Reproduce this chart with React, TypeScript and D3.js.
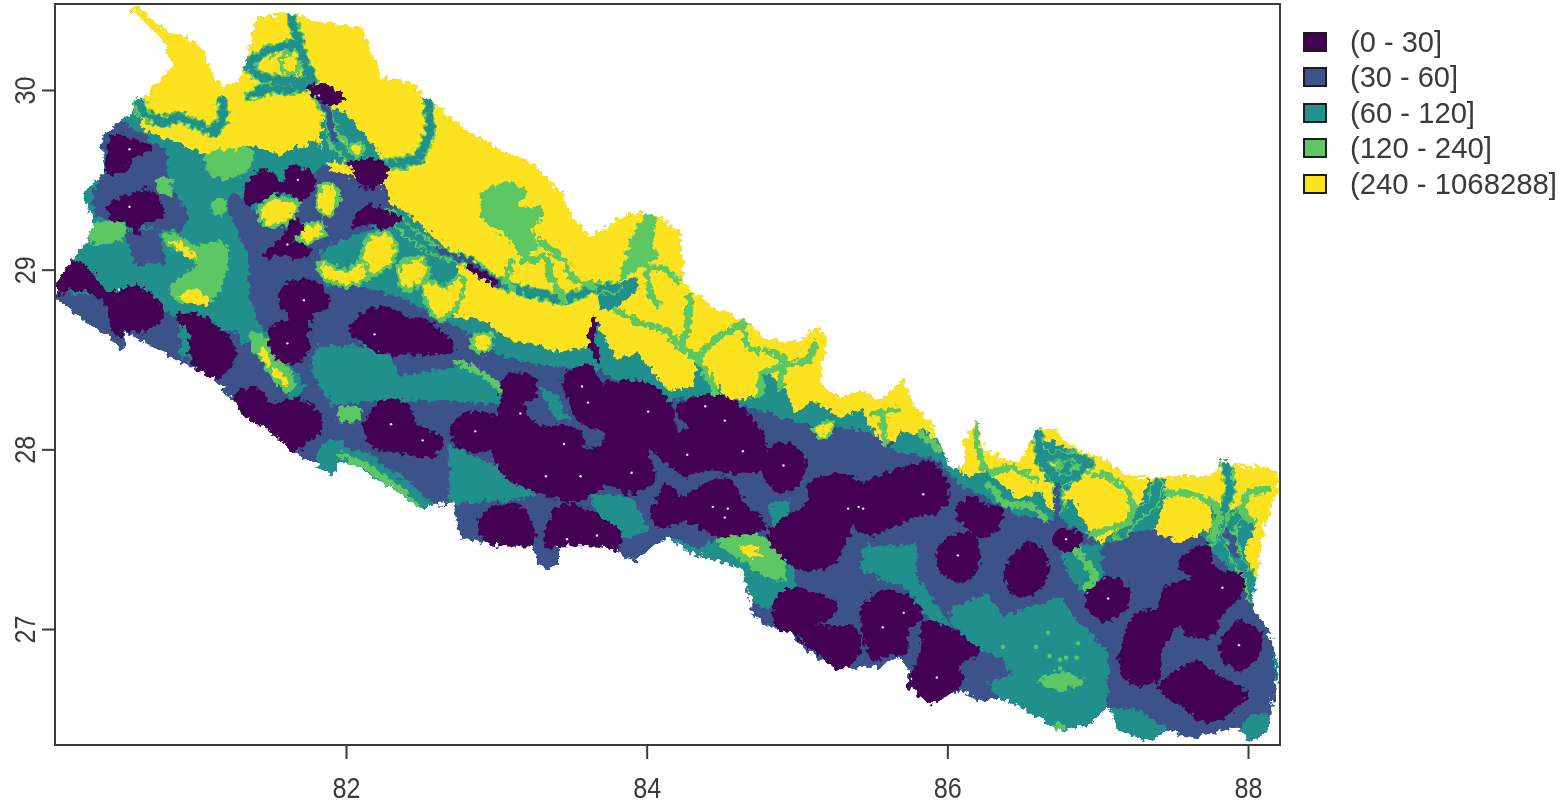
import React, { useRef, useEffect } from "react";
import * as d3 from "d3";

type Pt = [number, number];

const xTicks = [82, 84, 86, 88];
const yTicks = [27, 28, 29, 30];
const classLabels = ["(0 - 30]", "(30 - 60]", "(60 - 120]", "(120 - 240]", "(240 - 1068288]"];
const classColors = ["#440154", "#3B528B", "#21908C", "#5DC863", "#FDE21F"];

// Everything below is [longitude, latitude]
const outline: Pt[] = [[80.56,30.46],[80.61,30.47],[80.70,30.39],[80.83,30.32],[81.01,30.27],[81.08,30.17],[81.13,30.05],[81.21,30.02],[81.30,30.05],[81.34,30.17],[81.41,30.41],[81.50,30.41],[81.63,30.43],[81.70,30.41],[81.88,30.37],[82.10,30.35],[82.14,30.26],[82.21,30.15],[82.23,30.07],[82.43,30.04],[82.56,29.94],[82.74,29.82],[82.83,29.76],[83.07,29.65],[83.25,29.59],[83.43,29.43],[83.51,29.28],[83.63,29.18],[83.80,29.28],[83.96,29.32],[84.11,29.29],[84.22,29.20],[84.24,29.04],[84.24,28.93],[84.44,28.79],[84.64,28.72],[84.80,28.61],[85.00,28.60],[85.14,28.68],[85.20,28.61],[85.16,28.46],[85.16,28.35],[85.29,28.29],[85.42,28.33],[85.55,28.27],[85.71,28.39],[85.77,28.26],[85.89,28.15],[85.97,28.00],[86.02,27.90],[86.11,27.90],[86.10,28.03],[86.20,28.16],[86.24,28.00],[86.47,27.92],[86.55,28.03],[86.60,28.11],[86.71,28.11],[86.84,28.01],[87.02,27.95],[87.17,27.87],[87.30,27.84],[87.53,27.85],[87.75,27.85],[87.84,27.94],[87.93,27.91],[88.10,27.90],[88.20,27.87],[88.20,27.76],[88.17,27.72],[88.10,27.55],[88.07,27.34],[88.04,27.22],[88.02,27.12],[88.13,27.01],[88.20,26.81],[88.20,26.72],[88.17,26.62],[88.12,26.42],[88.02,26.38],[87.93,26.45],[87.77,26.42],[87.62,26.39],[87.46,26.44],[87.35,26.37],[87.26,26.40],[87.13,26.44],[87.07,26.58],[86.97,26.48],[86.75,26.43],[86.57,26.53],[86.35,26.62],[86.22,26.59],[86.09,26.66],[85.89,26.58],[85.74,26.68],[85.75,26.77],[85.67,26.85],[85.55,26.79],[85.42,26.79],[85.26,26.78],[85.06,26.88],[84.96,26.98],[84.82,27.01],[84.69,27.09],[84.69,27.16],[84.64,27.33],[84.42,27.40],[84.29,27.42],[84.14,27.51],[84.04,27.46],[83.91,27.37],[83.80,27.44],[83.67,27.46],[83.41,27.46],[83.41,27.38],[83.34,27.33],[83.27,27.38],[83.23,27.46],[83.03,27.46],[82.76,27.51],[82.71,27.70],[82.47,27.68],[82.36,27.76],[82.14,27.87],[82.03,27.93],[81.94,27.92],[81.92,27.86],[81.83,27.90],[81.65,27.98],[81.48,28.11],[81.32,28.18],[81.25,28.27],[81.12,28.39],[80.92,28.48],[80.76,28.55],[80.54,28.65],[80.51,28.55],[80.45,28.61],[80.25,28.72],[80.08,28.83],[80.08,28.94],[80.17,29.05],[80.25,29.13],[80.32,29.24],[80.25,29.43],[80.39,29.54],[80.37,29.74],[80.45,29.80],[80.58,29.87],[80.58,29.94],[80.68,29.96],[80.74,30.04],[80.85,30.13],[80.78,30.28],[80.68,30.37]];

const bluePolys: Pt[][] = [
  [[80.37,29.80],[80.50,29.83],[80.80,29.67],[80.83,29.47],[80.96,29.30],[80.90,29.21],[80.56,29.25],[80.33,29.30],[80.31,29.44],[80.40,29.55]],
  [[80.03,28.89],[80.50,28.83],[80.83,28.75],[81.30,28.64],[81.36,28.27],[81.16,28.27],[80.50,28.50],[80.03,28.78]],
  [[80.53,29.21],[80.76,29.23],[80.80,29.04],[80.60,29.01]],
  [[81.21,29.35],[81.24,29.44],[81.50,29.26],[81.70,29.39],[81.83,29.58],[82.26,29.58],[82.33,29.30],[81.98,29.16],[81.83,29.11],[81.86,28.91],[82.10,28.91],[82.36,28.84],[82.56,28.76],[82.83,28.64],[83.03,28.52],[83.29,28.47],[83.69,28.44],[84.09,28.26],[84.36,28.30],[84.76,28.22],[85.02,28.14],[85.42,28.11],[85.89,27.97],[86.09,27.80],[86.49,27.63],[86.75,27.61],[87.02,27.47],[87.15,27.50],[87.25,27.75],[87.55,27.72],[87.68,27.52],[87.98,27.22],[88.28,26.88],[88.28,26.33],[84.36,26.33],[84.36,27.27],[82.76,27.38],[82.36,27.61],[82.03,27.89],[81.70,27.89],[81.24,28.27],[81.20,28.42],[81.30,28.58],[81.46,28.64],[81.36,28.83],[81.34,29.09]],
];

const tealPolys: Pt[][] = [
  [[80.89,28.73],[81.02,28.73],[81.00,28.50],[80.90,28.50]],
  [[81.33,28.69],[81.48,28.66],[81.73,28.36],[81.66,28.27],[81.46,28.44]],
  [[81.81,28.58],[82.25,28.58],[82.36,28.41],[82.83,28.47],[83.06,28.36],[83.03,28.25],[82.63,28.27],[82.36,28.27],[81.90,28.25],[81.76,28.44]],
  [[81.83,28.03],[81.96,28.05],[82.03,28.00],[82.16,27.97],[82.49,27.77],[82.63,27.66],[82.46,27.63],[82.10,27.83],[81.93,27.83],[81.80,27.91]],
  [[82.68,28.03],[83.03,27.89],[83.23,27.83],[83.26,27.73],[82.83,27.70],[82.69,27.69]],
  [[83.63,27.75],[83.89,27.74],[84.02,27.55],[83.86,27.50],[83.69,27.55]],
  [[84.12,27.52],[84.36,27.45],[84.56,27.55],[84.96,27.41],[85.01,27.22],[84.82,27.11],[84.66,27.16],[84.59,27.33],[84.36,27.37],[84.22,27.41]],
  [[85.44,27.46],[85.80,27.47],[85.79,27.30],[85.95,27.11],[86.02,27.02],[85.89,27.05],[85.72,27.22],[85.42,27.33]],
  [[86.02,27.12],[86.27,27.20],[86.37,27.07],[86.75,27.18],[86.84,27.07],[87.07,26.87],[87.07,26.58],[86.97,26.48],[86.75,26.41],[86.57,26.50],[86.35,26.59],[86.27,26.70],[86.44,26.75],[86.35,26.84],[86.22,26.88],[86.02,27.03]],
  [[87.05,26.56],[87.26,26.55],[87.48,26.44],[87.35,26.33],[87.13,26.38]],
  [[87.93,26.43],[88.02,26.53],[88.14,26.53],[88.14,26.38],[87.95,26.35]],
  [[88.18,26.86],[88.25,26.86],[88.25,26.69],[88.18,26.69]],
  [[84.81,27.69],[84.95,27.72],[84.95,27.58],[84.84,27.58]],
  [[86.75,27.47],[87.02,27.47],[87.05,27.27],[86.89,27.19],[86.79,27.33]],
  [[83.27,28.36],[83.41,28.30],[83.49,28.16],[83.39,28.16]],
];

const greenPolys: Pt[][] = [
  [[81.36,28.65],[81.44,28.64],[81.66,28.36],[81.60,28.32],[81.42,28.50]],
  [[81.08,29.67],[81.36,29.68],[81.38,29.58],[81.20,29.50],[81.08,29.55]],
  [[80.28,29.23],[80.50,29.27],[80.53,29.19],[80.33,29.14]],
  [[80.80,29.21],[81.00,29.14],[81.20,29.15],[81.18,28.91],[81.10,28.83],[80.86,28.83],[80.83,28.91],[81.00,29.03],[80.80,29.14]],
  [[80.74,29.51],[80.83,29.50],[80.84,29.41],[80.76,29.43]],
  [[81.12,29.39],[81.20,29.39],[81.18,29.30],[81.11,29.32]],
  [[84.46,27.50],[84.76,27.52],[84.92,27.36],[84.89,27.26],[84.69,27.35]],
  [[86.60,26.71],[86.75,26.76],[86.90,26.71],[86.75,26.66]],
  [[86.70,26.47],[86.80,26.47],[86.75,26.43]],
  [[81.96,28.23],[82.09,28.23],[82.09,28.17],[81.96,28.16]],
];

const yellowStreaks: Pt[][] = [
  [[80.83,29.16],[80.90,29.15],[81.01,29.07],[80.94,29.07]],
  [[80.88,28.84],[81.00,28.89],[81.10,28.80],[81.00,28.81]],
  [[81.43,28.55],[81.47,28.55],[81.49,28.47],[81.45,28.47]],
  [[81.51,28.45],[81.54,28.45],[81.62,28.36],[81.58,28.36]],
  [[84.61,27.46],[84.70,27.46],[84.78,27.40],[84.69,27.40]],
];

const yellowMain: Pt[] = [[80.36,30.55],[88.28,30.55],[88.28,27.26],[88.05,27.28],[87.93,27.53],[87.77,27.57],[87.55,27.48],[87.40,27.53],[87.33,27.68],[87.22,27.65],[87.17,27.57],[87.02,27.48],[86.89,27.61],[86.84,27.73],[86.71,27.65],[86.62,27.76],[86.47,27.73],[86.27,27.87],[86.11,27.85],[85.99,27.97],[85.85,28.11],[85.69,28.05],[85.55,28.05],[85.42,28.22],[85.29,28.17],[85.11,28.27],[84.98,28.20],[84.91,28.37],[84.76,28.44],[84.74,28.29],[84.56,28.27],[84.42,28.40],[84.34,28.50],[84.31,28.35],[84.14,28.33],[83.94,28.54],[83.80,28.50],[83.67,28.70],[83.61,28.57],[83.41,28.54],[83.23,28.59],[83.09,28.61],[82.91,28.72],[82.71,28.74],[82.76,29.06],[82.63,29.15],[82.43,29.30],[82.31,29.36],[82.25,29.46],[81.90,29.55],[81.81,29.72],[81.56,29.64],[81.36,29.69],[81.06,29.65],[80.83,29.72],[80.66,29.77],[80.60,29.90]];

const tealWebs: Pt[][] = [
  [[81.85,29.89],[81.98,29.89],[82.18,29.70],[82.25,29.59],[82.03,29.61],[81.85,29.59],[81.83,29.76]],
  [[86.61,28.07],[86.92,27.97],[86.95,27.89],[86.79,27.77],[86.65,27.83]],
  [[87.34,27.83],[87.45,27.83],[87.45,27.72],[87.38,27.55],[87.22,27.55],[87.28,27.69]],
  [[87.75,27.69],[87.95,27.66],[88.05,27.58],[87.95,27.38],[87.78,27.47]],
  [[85.69,28.10],[85.95,28.05],[86.02,27.92],[85.80,27.97],[85.62,28.00]],
];

const pockets: Pt[][] = [
  [[81.42,29.33],[81.51,29.40],[81.68,29.36],[81.60,29.26],[81.46,29.25]],
  [[81.83,29.46],[81.93,29.47],[81.94,29.36],[81.88,29.30],[81.82,29.34]],
  [[81.66,29.21],[81.83,29.26],[81.86,29.21],[81.72,29.15]],
  [[82.13,29.16],[82.26,29.21],[82.33,29.14],[82.31,29.04],[82.16,28.97],[82.11,29.05]],
  [[81.82,29.04],[82.00,29.00],[82.11,29.04],[82.15,28.97],[82.03,28.91],[81.86,28.95]],
  [[82.36,29.03],[82.51,29.06],[82.55,28.99],[82.43,28.89],[82.35,28.93]],
  [[82.53,28.93],[82.66,28.91],[82.77,28.97],[82.76,28.83],[82.63,28.72],[82.53,28.83]],
  [[81.56,30.16],[81.66,30.22],[81.68,30.10],[81.60,30.10]],
  [[82.84,28.62],[82.96,28.64],[82.95,28.55],[82.86,28.55]],
  [[85.11,28.12],[85.25,28.15],[85.18,28.06]],
  [[81.92,29.76],[82.00,29.72],[81.96,29.67],[81.90,29.69]],
  [[82.04,29.70],[82.11,29.69],[82.10,29.64],[82.04,29.65]],
  [[86.68,27.96],[86.75,27.98],[86.74,27.90],[86.69,27.90]],
  [[86.85,27.90],[86.90,27.93],[86.88,27.87]],
  [[87.85,27.60],[87.92,27.60],[87.90,27.50]],
];

const greenBlobs: Pt[][] = [
  [[82.89,29.43],[83.07,29.50],[83.21,29.44],[83.14,29.35],[83.31,29.35],[83.31,29.29],[83.23,29.22],[83.29,29.12],[83.18,29.05],[83.07,29.18],[82.89,29.29]],
  [[83.98,29.32],[84.07,29.29],[84.04,29.13],[84.09,29.07],[83.98,29.02],[83.87,28.96],[83.81,28.93],[83.89,29.15]],
];

const tealBlob: Pt[] = [[83.67,28.89],[83.94,28.96],[83.94,28.89],[83.78,28.78],[83.69,28.78]];

const tealRivers: Pt[][] = [
  [[81.63,30.43],[81.68,30.28],[81.72,30.17],[81.78,30.02],[81.88,29.87],[81.92,29.72],[82.03,29.61]],
  [[81.68,30.26],[81.48,30.22],[81.34,30.14],[81.43,30.07],[81.58,30.05],[81.72,30.05]],
  [[81.36,29.97],[81.48,30.01],[81.63,30.00],[81.74,30.02]],
  [[81.18,29.93],[81.18,29.83],[81.12,29.77],[80.98,29.82],[80.88,29.85],[80.78,29.82],[80.65,29.87],[80.62,29.94]],
  [[82.55,29.96],[82.56,29.76],[82.49,29.63],[82.38,29.59],[82.25,29.59]],
  [[82.29,29.31],[82.43,29.20],[82.58,29.11],[82.83,29.04],[82.98,28.94],[83.14,28.89],[83.36,28.85],[83.45,28.83],[83.65,28.90],[83.80,28.90]],
  [[86.60,28.09],[86.62,27.94],[86.73,27.83],[86.75,27.68]],
  [[86.62,27.96],[86.84,27.96],[86.95,27.92],[86.84,27.85],[86.77,27.83]],
  [[87.40,27.81],[87.37,27.70],[87.24,27.62],[87.15,27.52]],
  [[87.85,27.94],[87.88,27.77],[87.84,27.65],[87.77,27.50]],
  [[87.95,27.65],[87.86,27.55],[87.93,27.38],[88.02,27.28],[88.02,27.18]],
];

const greenRivers: Pt[][] = [
  [[83.29,29.16],[83.47,29.04],[83.49,28.96],[83.65,28.90]],
  [[83.18,29.05],[83.34,29.07],[83.36,28.96],[83.45,28.83]],
  [[83.09,29.04],[83.06,28.93],[83.11,28.89]],
  [[83.80,28.77],[83.96,28.70],[84.14,28.66],[84.22,28.57],[84.34,28.51],[84.40,28.57],[84.47,28.62],[84.64,28.70],[84.67,28.57],[84.74,28.55]],
  [[84.34,28.51],[84.42,28.39],[84.47,28.30]],
  [[84.29,28.85],[84.27,28.66],[84.22,28.58]],
  [[84.00,29.01],[84.11,29.01],[84.20,28.94]],
  [[84.00,29.01],[84.02,28.87],[84.07,28.81]],
  [[85.12,28.59],[85.09,28.50],[84.89,28.46],[84.76,28.42],[84.76,28.31]],
  [[84.80,28.55],[84.91,28.51],[84.89,28.35]],
  [[85.51,28.20],[85.67,28.22]],
  [[85.57,28.18],[85.58,28.03]],
  [[86.19,28.15],[86.20,28.02],[86.24,27.90],[86.29,27.87],[86.42,27.90],[86.55,27.85],[86.60,27.83]],
  [[86.97,27.85],[87.05,27.86],[87.20,27.77],[87.24,27.68],[87.20,27.59],[87.04,27.55],[86.95,27.52]],
  [[87.46,27.76],[87.64,27.75],[87.77,27.70],[87.82,27.62],[87.77,27.51]],
  [[88.13,27.78],[88.00,27.76],[87.95,27.65],[88.04,27.59]],
  [[86.78,27.50],[86.89,27.41],[86.98,27.30],[86.92,27.22]],
  [[86.27,27.81],[86.39,27.69],[86.55,27.69],[86.65,27.61]],
  [[85.82,28.09],[85.95,28.00]],
  [[82.73,28.49],[82.93,28.41],[83.06,28.32]],
  [[81.96,27.97],[82.13,27.91],[82.36,27.77],[82.48,27.68]],
];

const blueRivers: Pt[][] = [
  [[86.73,27.79],[86.73,27.55]],
  [[82.63,29.11],[82.83,29.04],[83.02,28.92]],
  [[81.78,30.02],[81.88,29.87],[81.92,29.72]],
  [[87.86,27.55],[87.92,27.42]],
];

const purpleRivers: Pt[][] = [
  [[83.65,28.72],[83.63,28.62],[83.67,28.51]],
  [[82.83,29.01],[82.91,28.97],[82.98,28.93]],
];

const purplePolys: Pt[][] = [
  [[80.45,29.74],[80.58,29.72],[80.70,29.68],[80.58,29.63],[80.52,29.55],[80.41,29.55],[80.43,29.63]],
  [[80.43,29.35],[80.54,29.40],[80.68,29.44],[80.78,29.31],[80.65,29.26],[80.61,29.20],[80.56,29.26],[80.45,29.29]],
  [[80.08,28.90],[80.17,29.04],[80.28,29.00],[80.41,28.87],[80.61,28.90],[80.78,28.76],[80.65,28.66],[80.52,28.67],[80.50,28.62],[80.43,28.72],[80.41,28.81],[80.21,28.90],[80.08,28.87]],
  [[80.88,28.74],[81.08,28.72],[81.23,28.59],[81.25,28.51],[81.14,28.40],[81.08,28.40],[80.98,28.51],[80.96,28.65]],
  [[81.38,29.52],[81.48,29.54],[81.58,29.48],[81.63,29.57],[81.76,29.54],[81.78,29.48],[81.70,29.40],[81.58,29.44],[81.45,29.40],[81.34,29.37]],
  [[81.45,29.07],[81.61,29.20],[81.65,29.28],[81.70,29.22],[81.63,29.16],[81.76,29.11],[81.68,29.07],[81.56,29.09]],
  [[81.76,30.01],[81.88,30.02],[81.98,29.95],[81.90,29.93],[81.85,29.94]],
  [[82.03,29.59],[82.25,29.59],[82.26,29.52],[82.18,29.46],[82.10,29.47],[82.07,29.55]],
  [[82.05,29.24],[82.14,29.35],[82.29,29.31],[82.36,29.28],[82.25,29.24],[82.14,29.26]],
  [[81.58,28.89],[81.72,28.94],[81.83,28.90],[81.88,28.81],[81.76,28.74],[81.74,28.62],[81.74,28.54],[81.61,28.48],[81.50,28.57],[81.52,28.68],[81.63,28.72],[81.58,28.81]],
  [[82.03,28.66],[82.16,28.77],[82.31,28.77],[82.41,28.72],[82.54,28.70],[82.71,28.57],[82.65,28.54],[82.38,28.54],[82.25,28.54],[82.10,28.61]],
  [[81.26,28.30],[81.40,28.33],[81.50,28.25],[81.70,28.27],[81.84,28.14],[81.70,28.02],[81.60,27.98],[81.46,28.11],[81.33,28.19]],
  [[82.13,28.14],[82.26,28.27],[82.39,28.25],[82.46,28.14],[82.63,28.05],[82.59,27.97],[82.46,27.97],[82.33,28.00],[82.19,28.02]],
  [[82.71,28.12],[82.83,28.20],[82.98,28.18],[83.03,28.09],[82.98,28.01],[82.83,28.00],[82.74,28.03]],
  [[83.07,28.40],[83.23,28.40],[83.25,28.29],[83.16,28.26],[83.29,28.12],[83.45,28.13],[83.57,28.07],[83.57,28.00],[83.71,28.01],[83.73,28.09],[83.58,28.15],[83.47,28.31],[83.45,28.40],[83.63,28.46],[83.68,28.37],[83.94,28.37],[84.07,28.33],[84.18,28.18],[84.16,28.05],[84.00,28.03],[84.04,27.83],[83.89,27.76],[83.74,27.81],[83.58,27.73],[83.45,27.72],[83.29,27.77],[83.07,27.85],[82.98,28.00],[83.03,28.22]],
  [[84.16,28.07],[84.29,28.12],[84.20,28.22],[84.27,28.27],[84.44,28.29],[84.64,28.22],[84.78,28.03],[84.76,27.90],[84.60,27.87],[84.42,27.90],[84.27,27.86],[84.07,27.98],[84.02,28.03]],
  [[84.78,27.96],[84.91,28.03],[85.04,27.94],[85.02,27.83],[84.91,27.77],[84.80,27.83]],
  [[84.04,27.62],[84.14,27.80],[84.22,27.73],[84.42,27.81],[84.54,27.83],[84.64,27.70],[84.78,27.57],[84.47,27.53],[84.24,27.61],[84.11,27.57]],
  [[82.89,27.57],[82.96,27.66],[83.16,27.68],[83.25,27.49],[83.18,27.46],[82.98,27.46]],
  [[83.33,27.53],[83.43,27.68],[83.58,27.66],[83.82,27.53],[83.78,27.44],[83.69,27.42],[83.61,27.47],[83.41,27.47],[83.34,27.46]],
  [[84.82,27.53],[85.07,27.70],[85.09,27.81],[85.34,27.85],[85.42,27.81],[85.64,27.87],[85.89,27.92],[86.00,27.77],[85.97,27.68],[85.71,27.61],[85.49,27.53],[85.37,27.57],[85.24,27.37],[85.00,27.34],[84.87,27.44]],
  [[84.86,27.16],[84.96,27.22],[85.22,27.16],[85.26,27.11],[85.02,26.99],[84.89,26.99]],
  [[85.02,26.97],[85.22,27.01],[85.39,26.99],[85.41,26.88],[85.29,26.77],[85.16,26.86]],
  [[85.44,27.11],[85.55,27.20],[85.67,27.20],[85.83,27.07],[85.73,27.01],[85.73,26.87],[85.64,26.87],[85.51,26.83],[85.47,26.90]],
  [[85.84,27.03],[85.93,27.03],[86.20,26.87],[86.07,26.81],[86.09,26.70],[85.95,26.62],[85.89,26.58],[85.75,26.66],[85.80,26.79],[85.84,26.90]],
  [[86.07,27.65],[86.17,27.73],[86.24,27.68],[86.35,27.67],[86.35,27.59],[86.24,27.52],[86.13,27.57]],
  [[85.95,27.46],[86.13,27.53],[86.21,27.46],[86.17,27.31],[86.07,27.27],[85.95,27.34]],
  [[86.39,27.32],[86.53,27.47],[86.62,27.44],[86.67,27.33],[86.57,27.20],[86.44,27.20]],
  [[86.71,27.51],[86.77,27.55],[86.89,27.51],[86.80,27.43],[86.73,27.46]],
  [[86.93,27.18],[87.07,27.28],[87.20,27.22],[87.17,27.11],[87.07,27.05],[86.97,27.09]],
  [[87.42,27.14],[87.48,27.24],[87.64,27.27],[87.55,27.37],[87.73,27.46],[87.77,27.34],[87.95,27.29],[87.95,27.20],[87.82,27.09],[87.77,26.98],[87.64,26.96],[87.53,27.03],[87.44,27.09]],
  [[87.15,26.83],[87.26,27.07],[87.44,27.09],[87.53,27.05],[87.42,26.90],[87.40,26.72],[87.28,26.69],[87.17,26.75]],
  [[87.82,26.92],[87.93,27.03],[88.07,26.98],[88.07,26.87],[87.95,26.78],[87.84,26.84]],
  [[87.42,26.67],[87.66,26.81],[87.80,26.73],[87.98,26.64],[87.73,26.49],[87.55,26.59]],
];

const whiteCells: Pt[] = [[80.56,29.67],[80.56,29.35],[80.49,28.89],[81.61,29.14],[81.68,29.50],[81.82,29.97],[81.72,28.83],[81.61,28.59],[82.19,28.64],[83.57,28.35],[83.61,28.26],[83.16,28.20],[82.86,28.10],[83.45,28.03],[84.01,28.21],[84.39,28.24],[84.52,28.16],[84.64,27.99],[84.27,27.97],[84.91,27.91],[83.90,27.87],[83.33,27.85],[83.56,27.85],[84.44,27.68],[84.54,27.67],[84.52,27.62],[83.47,27.50],[83.67,27.52],[85.34,27.67],[85.41,27.68],[85.84,27.75],[85.44,27.67],[86.07,27.41],[86.79,27.50],[87.07,27.17],[87.83,27.23],[87.94,26.91],[85.71,27.09],[85.57,27.01],[85.93,26.73],[82.30,28.14],[82.51,28.05]];

const greenCells: Pt[] = [[86.59,26.90],[86.67,26.98],[86.68,26.85],[86.75,26.83],[86.79,26.84],[86.75,26.78],[86.86,26.84],[86.87,26.92],[86.37,26.90]];

const W = 1563;
const H = 804;
const frame = { left: 55, right: 1280, top: 4, bottom: 745 };
const textFont = '"Liberation Sans", Arial, sans-serif';
const legendRows = [42, 77, 113, 148, 184];
const legendWidths = [92, 108, 125, 142, 207];

const App = () => {
  const svgRef = useRef<SVGSVGElement>(null);

  useEffect(() => {
    const svg = d3.select(svgRef.current);
    svg.selectAll("*").remove();

    const x = d3.scaleLinear().domain([82, 88]).range([346, 1248]);
    const y = d3.scaleLinear().domain([27, 30]).range([629, 90]);
    const line = d3.line<Pt>().x((d) => x(d[0])).y((d) => y(d[1]));
    const closed = (d: Pt[]) => line(d) + "Z";
    const blob = d3.line<Pt>().x((d) => x(d[0])).y((d) => y(d[1]))
      .curve(d3.curveCatmullRomClosed.alpha(0.5));

    const defs = svg.append("defs");
    defs.append("clipPath").attr("id", "country").append("path").attr("d", closed(outline));
    defs.append("clipPath").attr("id", "plotArea").append("rect")
      .attr("x", frame.left).attr("y", frame.top)
      .attr("width", frame.right - frame.left).attr("height", frame.bottom - frame.top);

    // rough raster edges
    const rough = defs.append("filter").attr("id", "rough")
      .attr("filterUnits", "userSpaceOnUse")
      .attr("x", 0).attr("y", 0).attr("width", W).attr("height", H)
      .attr("color-interpolation-filters", "sRGB");
    rough.append("feTurbulence").attr("type", "fractalNoise")
      .attr("baseFrequency", 0.18).attr("numOctaves", 2).attr("seed", 4).attr("result", "n");
    rough.append("feDisplacementMap").attr("in", "SourceGraphic").attr("in2", "n")
      .attr("scale", 11).attr("xChannelSelector", "R").attr("yChannelSelector", "G").attr("result", "d");
    rough.append("feGaussianBlur").attr("in", "d").attr("stdDeviation", 0.6);

    const soft = defs.append("filter").attr("id", "soft");
    soft.append("feGaussianBlur").attr("stdDeviation", 0.4);

    const plot = svg.append("g").attr("clip-path", "url(#plotArea)");
    const map = plot.append("g").attr("filter", "url(#rough)")
      .append("g").attr("clip-path", "url(#country)");

    const fillPolys = (data: Pt[][], color: string) => {
      map.append("g").selectAll("path").data(data).enter().append("path")
        .attr("d", closed).attr("fill", color);
    };
    const fillBlobs = (data: Pt[][], color: string, grow = 0) => {
      map.append("g").selectAll("path").data(data).enter().append("path")
        .attr("d", (d) => blob(d)).attr("fill", color)
        .attr("stroke", color).attr("stroke-width", grow);
    };
    const strokeLines = (data: Pt[][], color: string, width: number) => {
      map.append("g").selectAll("path").data(data).enter().append("path")
        .attr("d", (d) => line(d)).attr("fill", "none")
        .attr("stroke", color).attr("stroke-width", width)
        .attr("stroke-linejoin", "round").attr("stroke-linecap", "round");
    };

    const [purple, blue, teal, green, yellow] = classColors;

    fillPolys([outline], teal);
    fillPolys(bluePolys, blue);
    fillPolys(tealPolys, teal);
    fillBlobs(greenPolys, green);
    fillBlobs(yellowStreaks, yellow);
    fillPolys([yellowMain], yellow);
    fillPolys(tealWebs, teal);
    fillPolys(greenBlobs, green);
    fillPolys([tealBlob], teal);

    map.append("g").selectAll("path").data(pockets).enter().append("path")
      .attr("d", (d) => blob(d)).attr("fill", yellow)
      .attr("stroke", green).attr("stroke-width", 4);

    strokeLines(tealRivers, green, 12);
    strokeLines(tealRivers, teal, 8);
    strokeLines(greenRivers, green, 6.5);
    strokeLines(blueRivers, blue, 6);
    strokeLines(purpleRivers, purple, 7);
    fillBlobs(purplePolys, purple, 4);

    // isolated cells stay sharp
    plot.append("g").selectAll("circle").data(greenCells).enter().append("circle")
      .attr("cx", (d) => x(d[0])).attr("cy", (d) => y(d[1])).attr("r", 2.2)
      .attr("fill", green);
    plot.append("g").selectAll("circle").data(whiteCells).enter().append("circle")
      .attr("cx", (d) => x(d[0])).attr("cy", (d) => y(d[1])).attr("r", 1.2)
      .attr("fill", "#f7e6f5");

    const ink = "#3a3a3a";
    const labels = svg.append("g").attr("filter", "url(#soft)");

    labels.append("rect")
      .attr("x", frame.left).attr("y", frame.top)
      .attr("width", frame.right - frame.left).attr("height", frame.bottom - frame.top)
      .attr("fill", "none").attr("stroke", ink).attr("stroke-width", 2);

    const xAxis = labels.append("g")
      .attr("transform", `translate(0,${frame.bottom})`)
      .call(d3.axisBottom(x).tickValues(xTicks).tickFormat(d3.format("d")).tickSize(14).tickSizeOuter(0));
    xAxis.select(".domain").remove();
    xAxis.selectAll("line").attr("stroke", ink).attr("stroke-width", 2);
    xAxis.selectAll("text")
      .attr("y", 0).attr("dy", 0)
      .attr("transform", "translate(0,53)")
      .attr("fill", ink)
      .style("font-family", textFont).style("font-size", "29px")
      .attr("textLength", 28).attr("lengthAdjust", "spacingAndGlyphs");

    const yAxis = labels.append("g")
      .attr("transform", `translate(${frame.left},0)`)
      .call(d3.axisLeft(y).tickValues(yTicks).tickFormat(d3.format("d")).tickSize(13).tickSizeOuter(0));
    yAxis.select(".domain").remove();
    yAxis.selectAll("line").attr("stroke", ink).attr("stroke-width", 2);
    yAxis.selectAll("text")
      .attr("x", 0).attr("dy", 0)
      .attr("transform", "translate(-20,0) rotate(-90)")
      .attr("text-anchor", "middle")
      .attr("fill", ink)
      .style("font-family", textFont).style("font-size", "29px")
      .attr("textLength", 28).attr("lengthAdjust", "spacingAndGlyphs");

    const legend = labels.append("g");
    classLabels.forEach((label, i) => {
      legend.append("rect")
        .attr("x", 1304).attr("y", legendRows[i] - 9)
        .attr("width", 22).attr("height", 18)
        .attr("fill", classColors[i]).attr("stroke", "#1c1c1c").attr("stroke-width", 2);
      legend.append("text")
        .attr("x", 1350).attr("y", legendRows[i] + 10)
        .attr("fill", ink)
        .style("font-family", textFont).style("font-size", "30px")
        .attr("textLength", legendWidths[i]).attr("lengthAdjust", "spacingAndGlyphs")
        .text(label);
    });
  }, []);

  return (
    <svg
      ref={svgRef}
      width={W}
      height={H}
      style={{ position: "absolute", left: 0, top: 0, display: "block", background: "#fff" }}
    />
  );
};

export default App;
